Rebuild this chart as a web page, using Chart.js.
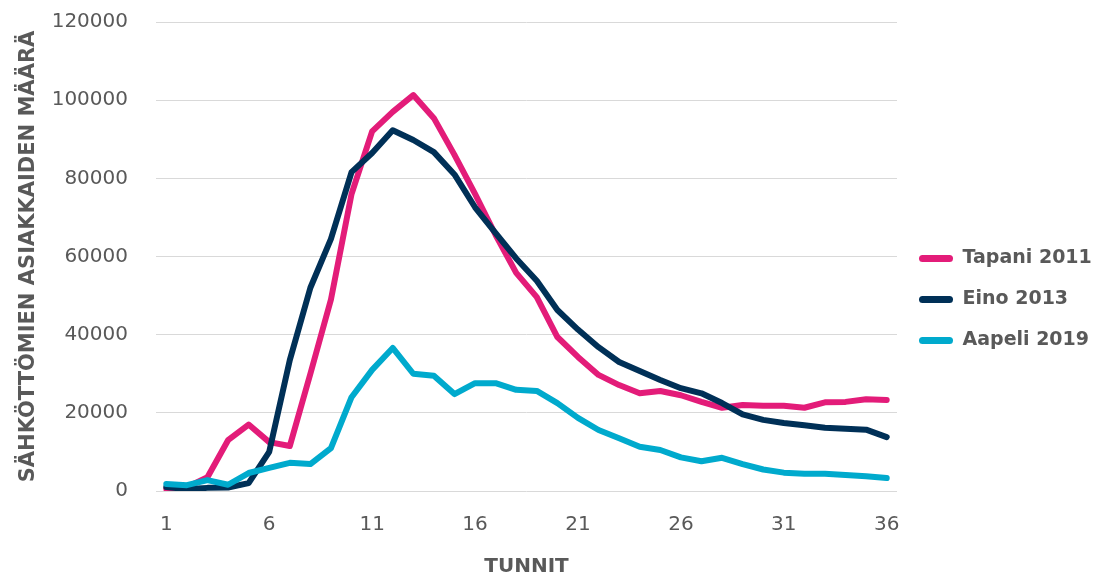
<!DOCTYPE html>
<html>
<head>
<meta charset="utf-8">
<script src="https://cdn.jsdelivr.net/npm/chart.js@4"></script>
<style>
  html, body { margin: 0; padding: 0; background: #ffffff; }
  #wrap { width: 1095px; height: 577px; }
</style>
</head>
<body>
<div id="wrap"><canvas id="c" width="1095" height="577"></canvas></div>
<script>
const hours = ["1","2","3","4","5","6","7","8","9","10","11","12","13","14","15","16","17","18","19","20","21","22","23","24","25","26","27","28","29","30","31","32","33","34","35","36"];
const tapani2011 = [500, 1000, 3500, 13000, 17000, 12500, 11500, 30000, 49000, 76000, 92000, 97000, 101300, 95400, 86000, 76000, 65500, 55800, 49600, 39400, 34300, 29700, 27100, 25000, 25600, 24500, 22800, 21300, 22000, 21800, 21800, 21300, 22700, 22800, 23500, 23300];
const eino2013 = [1000, 500, 800, 900, 2000, 10000, 33500, 52000, 64500, 81600, 86500, 92300, 89800, 86700, 81000, 72600, 66000, 59500, 53800, 46300, 41300, 36800, 33000, 30700, 28400, 26300, 25000, 22500, 19600, 18200, 17400, 16800, 16200, 15900, 15700, 13800];
const aapeli2019 = [1800, 1500, 2800, 1600, 4600, 5900, 7200, 6900, 11000, 24000, 31000, 36600, 30000, 29500, 24800, 27600, 27600, 25900, 25600, 22500, 18700, 15600, 13500, 11300, 10500, 8600, 7600, 8500, 6900, 5500, 4700, 4400, 4400, 4100, 3800, 3300];
const seriesNames = ["Tapani 2011", "Eino 2013", "Aapeli 2019"];
const yTitle = "SÄHKÖTTÖMIEN ASIAKKAIDEN MÄÄRÄ";
const xTitle = "TUNNIT";

const colors = ["#E31C79", "#003057", "#00AACD"];
const FONT = "'DejaVu Sans', sans-serif";
const TEXT = "#595959";

function ds(label, data, color, order) {
  return {
    label, data, borderColor: color, backgroundColor: color,
    borderWidth: 6, pointRadius: 0, tension: 0,
    borderCapStyle: 'round', borderJoinStyle: 'round', fill: false, order
  };
}

new Chart(document.getElementById('c'), {
  type: 'line',
  data: {
    labels: hours,
    datasets: [
      ds(seriesNames[0], tapani2011, colors[0], 3),
      ds(seriesNames[1], eino2013, colors[1], 2),
      ds(seriesNames[2], aapeli2019, colors[2], 1)
    ]
  },
  options: {
    responsive: false,
    animation: false,
    devicePixelRatio: 1,
    layout: { padding: { left: 12, right: 0, top: 0, bottom: 0 } },
    plugins: {
      tooltip: { enabled: false },
      legend: {
        position: 'right',
        align: 'center',
        maxWidth: 198,
        title: { display: true, text: '', font: { size: 10 }, padding: { top: 5, bottom: 5 } },
        labels: {
          sort: (a, b) => a.datasetIndex - b.datasetIndex,
          generateLabels: (chart) => {
            const items = Chart.defaults.plugins.legend.labels.generateLabels(chart);
            items.forEach(it => { it.lineWidth = 0; });
            return items;
          },
          boxWidth: 34,
          boxHeight: 7,
          useBorderRadius: true,
          borderRadius: 3.5,
          padding: 22,
          color: TEXT,
          font: { family: FONT, size: 19, weight: 'bold' }
        }
      }
    },
    scales: {
      x: {
        type: 'category',
        offset: true,
        grid: { display: false, drawTicks: false },
        border: { display: false },
        afterFit: (s) => { s.height = 86; },
        ticks: {
          autoSkip: false,
          maxRotation: 0,
          padding: 22,
          color: TEXT,
          font: { family: FONT, size: 20 },
          callback: function (v, i) { return (i % 5 === 0) ? hours[i] : ''; }
        },
        title: {
          display: true, text: xTitle, color: TEXT,
          font: { family: FONT, size: 20, weight: 'bold' },
          padding: { top: 0, bottom: -2 }
        }
      },
      y: {
        min: 0, max: 120000,
        grid: { color: '#D9D9D9', lineWidth: 1, drawTicks: true, tickLength: 18, tickColor: 'rgba(0,0,0,0)' },
        border: { display: false },
        afterFit: (s) => { s.width = 144; },
        ticks: {
          stepSize: 20000, padding: 10, color: TEXT,
          font: { family: FONT, size: 20 },
          callback: (v) => String(v)
        },
        title: {
          display: true, text: yTitle, color: TEXT,
          font: { family: FONT, size: 21, weight: 'bold' },
          padding: { top: 4, bottom: 12 }
        }
      }
    }
  }
});
</script>
</body>
</html>
